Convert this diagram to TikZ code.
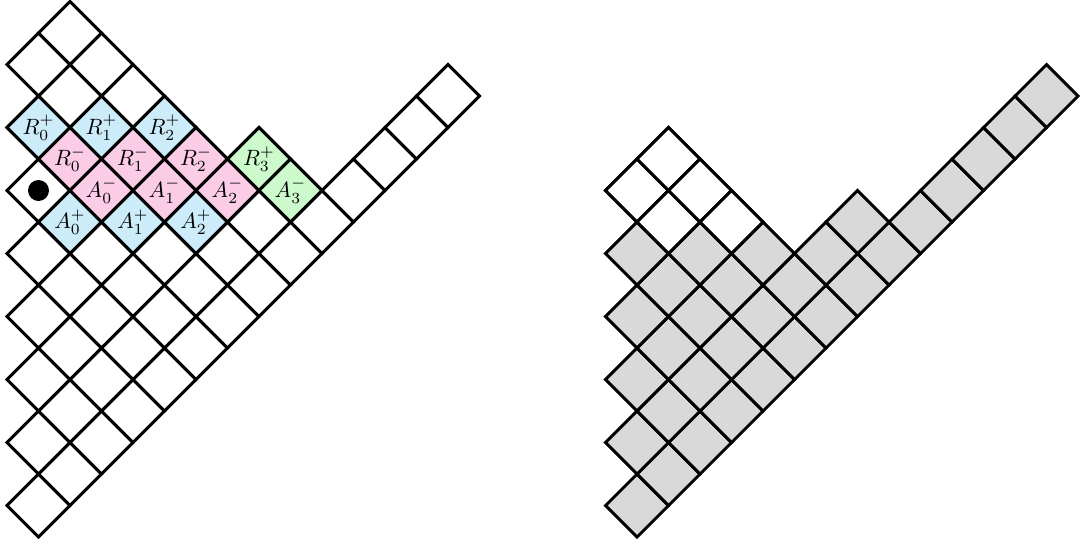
\documentclass[tikz,border=0pt]{standalone}
\usepackage{xcolor}
\definecolor{cblue}{RGB}{204,236,250}
\definecolor{cpink}{RGB}{250,204,230}
\definecolor{cgreen}{RGB}{204,250,204}
\definecolor{cgray}{RGB}{217,217,217}
\newcommand\dcell[3]{%
  \pgfmathsetmacro\cu{#1}\pgfmathsetmacro\cv{#2}%
  \filldraw[cellline,fill=#3] (\cu,\cv-1) -- (\cu+1,\cv) -- (\cu,\cv+1) -- (\cu-1,\cv) -- cycle;}
\begin{document}
\begin{tikzpicture}[x=0.5cm,y=0.5cm,
  cellline/.style={draw=black,line width=1.3pt,line join=miter},
  lbl/.style={inner sep=0pt,font=\normalsize}]
\useasboundingbox (-1.222,-0.190) rectangle (33.063,17.048);
% left diagram
\foreach \r/\L in {0/14,1/9,2/8,3/6,4/5,5/4,6/3,7/2} {
  \foreach \k in {1,...,\L} {
    \pgfmathtruncatemacro\u{\k-1}
    \pgfmathtruncatemacro\v{2*\r+\k}
    \dcell{\u}{\v}{white}
  }
}
\foreach \u/\v in {0/13,2/13,4/13,1/10,3/10,5/10} {\dcell{\u}{\v}{cblue}}
\foreach \u/\v in {1/12,3/12,5/12,2/11,4/11,6/11} {\dcell{\u}{\v}{cpink}}
\foreach \u/\v in {7/12,8/11} {\dcell{\u}{\v}{cgreen}}
\node[lbl] (R0p) at (0,13) {$R_0^+$};
\node[lbl] (R1p) at (2,13) {$R_1^+$};
\node[lbl] (R2p) at (4,13) {$R_2^+$};
\node[lbl] (R3p) at (7,12) {$R_3^+$};
\node[lbl] (R0m) at (1,12) {$R_0^-$};
\node[lbl] (R1m) at (3,12) {$R_1^-$};
\node[lbl] (R2m) at (5,12) {$R_2^-$};
\node[lbl] (A0m) at (2,11) {$A_0^-$};
\node[lbl] (A1m) at (4,11) {$A_1^-$};
\node[lbl] (A2m) at (6,11) {$A_2^-$};
\node[lbl] (A3m) at (8,11) {$A_3^-$};
\node[lbl] (A0p) at (1,10) {$A_0^+$};
\node[lbl] (A1p) at (3,10) {$A_1^+$};
\node[lbl] (A2p) at (5,10) {$A_2^+$};
\node[circle,fill=black,inner sep=0pt,minimum size=0.333cm] (dot) at (0,11) {};
% right diagram
\foreach \r/\L in {0/14,1/8,2/5,3/4,4/3,5/2} {
  \foreach \k in {1,...,\L} {
    \pgfmathtruncatemacro\u{\k-1+19}
    \pgfmathtruncatemacro\v{2*\r+\k}
    \dcell{\u}{\v}{cgray}
  }
}
\foreach \u/\v in {0/11,1/12,1/10,2/11,3/10} {\dcell{\u+19}{\v}{white}}
\end{tikzpicture}
\end{document}
